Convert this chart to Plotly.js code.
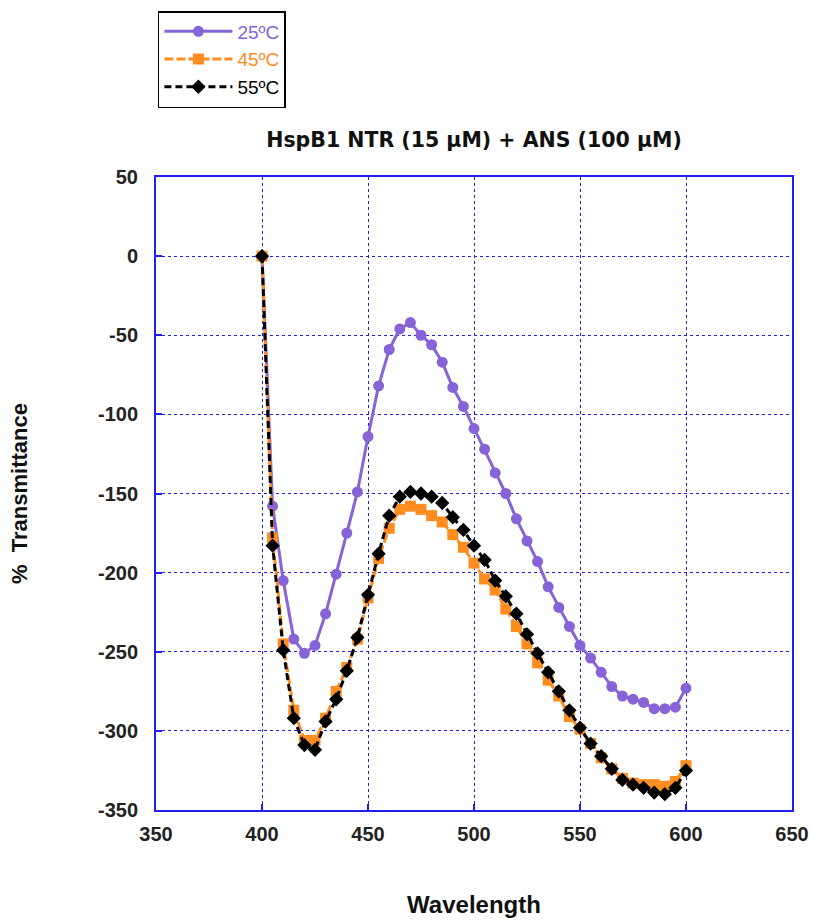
<!DOCTYPE html>
<html>
<head>
<meta charset="utf-8">
<script src="https://cdn.plot.ly/plotly-3.0.1.min.js"></script>
<style>html,body{margin:0;padding:0;background:#fff}#chart{width:813px;height:920px}</style>
</head>
<body>
<div id="chart"></div>
<script>
const wavelength = [400,405,410,415,420,425,430,435,440,445,450,455,460,465,470,475,480,485,490,495,500,505,510,515,520,525,530,535,540,545,550,555,560,565,570,575,580,585,590,595,600];
const t25 = [0,-158,-205,-242,-251,-246,-226,-201,-175,-149,-114,-82,-59,-46,-42,-50,-56,-67,-83,-95,-109,-122,-137,-150,-166,-180,-193,-209,-222,-234,-246,-254,-263,-272,-278,-280,-282,-286,-286,-285,-273];
const t45 = [0,-178,-245,-287,-306,-306,-292,-275,-260,-242,-216,-191,-172,-160,-158,-160,-164,-168,-176,-184,-194,-204,-211,-223,-234,-245,-257,-268,-278,-291,-299,-308,-317,-324,-330,-333,-334,-334,-335,-332,-322];
const t55 = [0,-183,-249,-292,-309,-312,-294,-280,-262,-241,-214,-188,-164,-152,-149,-150,-152,-156,-165,-173,-183,-192,-205,-215,-226,-239,-251,-263,-275,-287,-298,-308,-316,-324,-331,-334,-336,-339,-340,-336,-325];
const seriesNames = ['25ºC','45ºC','55ºC'];
const xTicks = [350,400,450,500,550,600,650];
const yTicks = [50,0,-50,-100,-150,-200,-250,-300,-350];

const cPurple = '#8763d8', cOrange = '#ff8c1e', cBlack = '#000000';
const axisBlue = '#2020ee';

const traces = [
  {x: wavelength, y: t25, name: '<span style="color:'+cPurple+'">'+seriesNames[0]+'</span>', mode:'lines+markers',
   line:{color:cPurple,width:3}, marker:{symbol:'circle',size:11,color:cPurple}},
  {x: wavelength, y: t45, name: '<span style="color:'+cOrange+'">'+seriesNames[1]+'</span>', mode:'lines+markers',
   line:{color:cOrange,width:3,dash:'9px,3px'}, marker:{symbol:'square',size:11,color:cOrange}},
  {x: wavelength, y: t55, name: '<span style="color:'+cBlack+'">'+seriesNames[2]+'</span>', mode:'lines+markers',
   line:{color:cBlack,width:3,dash:'7px,4px'}, marker:{symbol:'diamond',size:11,color:cBlack}}
];

const tickFont = {family:'"Liberation Sans", Arial, sans-serif', size:20, color:'#222', weight:'bold'};

const layout = {
  width: 813, height: 920,
  margin: {l:156, r:21, t:176, b:110},
  paper_bgcolor:'#fff', plot_bgcolor:'#fff',
  showlegend: true,
  title: {text:'HspB1 NTR (15 µM) + ANS (100 µM)', font:{family:'"DejaVu Sans", sans-serif', size:20.5, color:'#111', weight:'bold'},
          xref:'paper', x:0.5, xanchor:'center', yref:'container', y:1-140/920, yanchor:'middle'},
  xaxis: {range:[350,650], tickvals:xTicks, ticktext:xTicks.map(String), ticks:'inside', ticklen:6, tickcolor:axisBlue, tickwidth:2,
          showline:true, linecolor:axisBlue, linewidth:2, mirror:true,
          showgrid:true, gridcolor:axisBlue, griddash:'dot', gridwidth:1, zeroline:false,
          tickfont: tickFont, ticklabelstandoff: 5,
          title:{text:'Wavelength', font:{family:'"Liberation Sans", Arial, sans-serif', size:24, color:'#111', weight:'bold'}, standoff:52}},
  yaxis: {range:[-350,50], tickvals:yTicks, ticktext:yTicks.map(String), ticks:'inside', ticklen:6, tickcolor:axisBlue, tickwidth:2,
          showline:true, linecolor:axisBlue, linewidth:2, mirror:true,
          showgrid:true, gridcolor:axisBlue, griddash:'dot', gridwidth:1, zeroline:false,
          tickfont: tickFont, ticklabelstandoff: 12,
          title:{text:'%  Transmittance', font:{family:'"Liberation Sans", Arial, sans-serif', size:22, color:'#111', weight:'bold'}, standoff:64}},
  legend: {x:0.003, xref:'paper', xanchor:'left', y:(810-11)/634, yanchor:'top', bgcolor:'#fff', bordercolor:'#000', borderwidth:1.5,
           font:{family:'"Liberation Sans", Arial, sans-serif', size:19, color:'#000'}, itemwidth:68, tracegroupgap:0}
};

Plotly.newPlot('chart', traces, layout, {staticPlot:true});
</script>
</body>
</html>
